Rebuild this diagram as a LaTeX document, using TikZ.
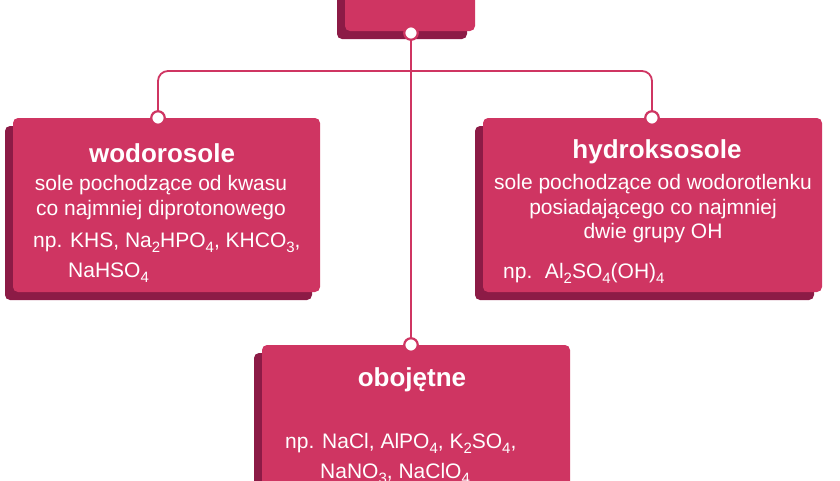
\documentclass[tikz,border=0pt]{standalone}
\usepackage{fontspec}
\setmainfont{Liberation Sans}
\definecolor{boxpink}{RGB}{207,53,98}
\definecolor{boxshade}{RGB}{140,27,70}
\newcommand\chemsub[1]{\raisebox{-0.45ex}{\fontsize{15}{15}\selectfont #1}}
\begin{document}
\begin{tikzpicture}[x=1pt,y=-1pt,
  box/.style={fill=boxpink, rounded corners=5pt, inner sep=0pt},
  conn/.style={draw=boxpink, line width=1.8pt},
  dot/.style={circle, fill=white, draw=boxpink, line width=2.2pt, minimum size=13.5pt, inner sep=0pt},
  titletxt/.style={text=white, font=\fontsize{26}{30}\selectfont\bfseries, inner sep=0pt},
  bodytxt/.style={text=white, font=\fontsize{21}{24.5}\selectfont, inner sep=0pt, align=center},
  extxt/.style={text=white, font=\fontsize{21}{24.5}\selectfont, inner sep=0pt, anchor=west}]
\useasboundingbox (0,0) rectangle (840,480);
% shadows
\fill[boxshade, rounded corners=5pt] (337,-40) rectangle (467,39);
\fill[boxshade, rounded corners=5pt] (5,126) rectangle (312,300);
\fill[boxshade, rounded corners=5pt] (475,126) rectangle (814,300);
\fill[boxshade, rounded corners=5pt] (254,353) rectangle (562,530);
% boxes
\node[box, minimum width=130pt, minimum height=71pt] (T) at (410,-4.5) {};
\node[box, minimum width=307pt, minimum height=174pt] (L) at (166.5,205) {};
\node[box, minimum width=339pt, minimum height=174pt] (R) at (652.5,205) {};
\node[box, minimum width=308pt, minimum height=177pt] (B) at (416,433.5) {};
% connector points
\coordinate (pT) at (411,33);
\coordinate (pL) at (158,118);
\coordinate (pR) at (652,118);
\coordinate (pB) at (411,345);
\coordinate (J) at (411,71);
\draw[conn] (pT) -- (pB);
\draw[conn, rounded corners=10pt] (pL) |- (J) -| (pR);
\node[dot] (dT) at (pT) {};
\node[dot] (dL) at (pL) {};
\node[dot] (dR) at (pR) {};
\node[dot] (dB) at (pB) {};
% left box text
\node[titletxt] (Lt) at (162,153) {wodorosole};
\node[bodytxt] (Lb) at (161,197.5) {sole pochodzące od kwasu\\co najmniej diprotonowego};
\node[extxt] (Le1) at (33,243) {np. KHS, Na\chemsub{2}HPO\chemsub{4}, KHCO\chemsub{3},};
\node[extxt] (Le2) at (68,273) {NaHSO\chemsub{4}};
% right box text
\node[titletxt] (Rt) at (657,152) {hydroksosole};
\node[bodytxt] (Rb) at (653,209) {sole pochodzące od wodorotlenku\\posiadającego co najmniej\\dwie grupy OH};
\node[extxt] (Re1) at (503,273) {np.\hspace{0.6em}Al\chemsub{2}SO\chemsub{4}(OH)\chemsub{4}};
% bottom box text
\node[titletxt] (Bt) at (412,380) {obojętne};
\node[extxt] (Be1) at (285,443) {np. NaCl, AlPO\chemsub{4}, K\chemsub{2}SO\chemsub{4},};
\node[extxt] (Be2) at (320,473) {NaNO\chemsub{3}, NaClO\chemsub{4}};
\end{tikzpicture}
\end{document}
